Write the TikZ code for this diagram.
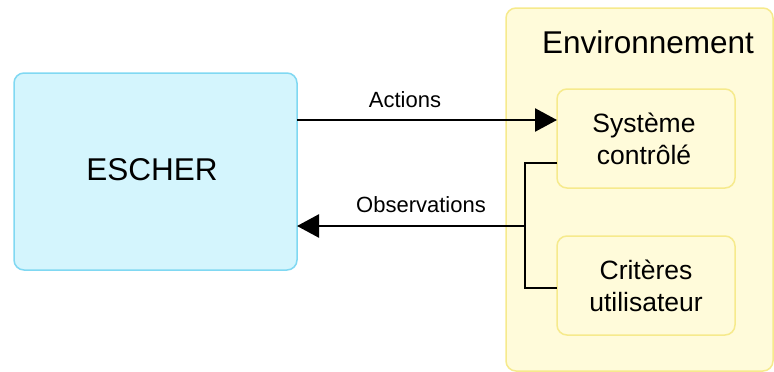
\documentclass[tikz,border=0pt]{standalone}
\usepackage{fontspec}
\setmainfont{Liberation Sans}
\usetikzlibrary{arrows.meta}
\definecolor{cyanfill}{RGB}{212,245,253}
\definecolor{cyanline}{RGB}{128,216,242}
\definecolor{yelfill}{RGB}{255,251,218}
\definecolor{yelline}{RGB}{246,234,140}
\tikzset{
  box/.style={rounded corners=10pt, line width=1.5pt},
  escherbox/.style={box, draw=cyanline, fill=cyanfill},
  envbox/.style={box, draw=yelline, fill=yelfill},
  inner/.style={box, draw=yelline, fill=yelfill},
  innertext/.style={align=center, font=\fontsize{26.5}{32}\selectfont},
  conn/.style={line width=2.6pt, draw=black},
  arr/.style={conn, -{Triangle[length=22pt,width=23pt]}},
  lbl/.style={font=\fontsize{22}{26}\selectfont}
}
\begin{document}
\begin{tikzpicture}[x=1pt,y=-1pt]
\useasboundingbox (0,0) rectangle (774,372);
\draw[escherbox] (14,73) rectangle (297,270);
\node[font=\fontsize{31.5}{38}\selectfont] (escher) at (152,170) {ESCHER};
\draw[envbox] (506,8) rectangle (773,371);
\node[font=\fontsize{31.5}{38}\selectfont] (envt) at (648,42) {Environnement};
\draw[inner] (557,89) rectangle (735,188);
\node[innertext] (sys) at (644,139) {Système\\contrôlé};
\draw[inner] (557,236) rectangle (735,335);
\node[innertext] (crit) at (646,286) {Critères\\utilisateur};
\coordinate (sysL) at (557,163);
\coordinate (critL) at (557,288);
\coordinate (actA) at (297,120);
\coordinate (actB) at (557,120);
\coordinate (obsA) at (525,226);
\coordinate (obsB) at (297,226);
\draw[arr] (actA) -- (actB);
\draw[arr] (obsA) -- (obsB);
\draw[conn] (sysL) -- (525,163) -- (525,288) -- (critL);
\node[lbl] (la) at (405,100) {Actions};
\node[lbl] (lo) at (421,205) {Observations};
\end{tikzpicture}
\end{document}
